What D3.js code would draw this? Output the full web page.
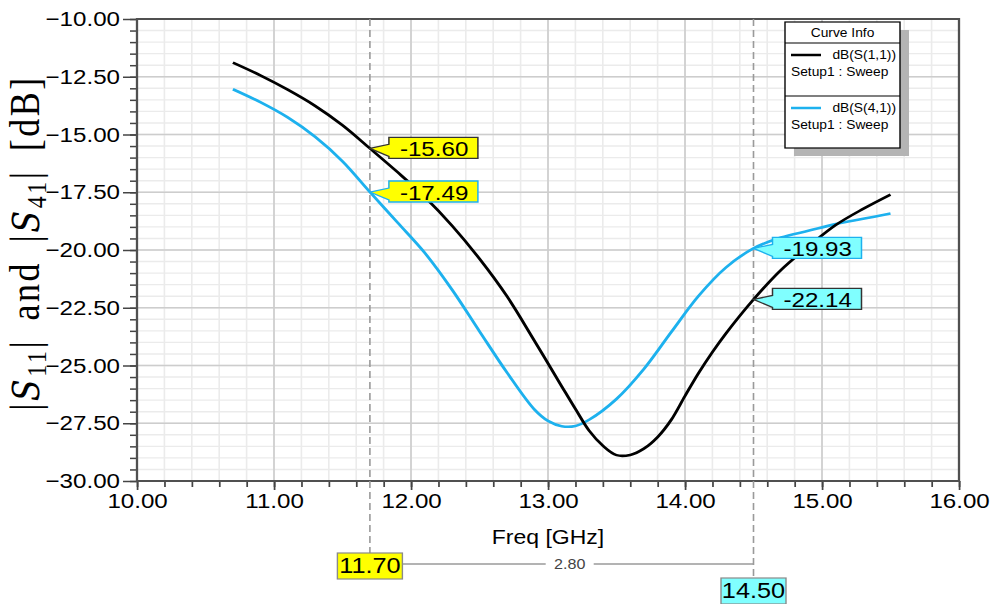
<!DOCTYPE html>
<html>
<head>
<meta charset="utf-8">
<script src="https://cdn.jsdelivr.net/npm/d3@7/dist/d3.min.js"></script>
<style>
body { margin: 0; background: #fff; }
svg { display: block; }
</style>
</head>
<body>
<div id="chart"></div>
<script>
// sweep data (GHz, dB)
var freqS11 = [10.7, 10.9, 11.1, 11.3, 11.5, 11.7, 11.9, 12.1, 12.3, 12.5, 12.7, 12.9, 13.1, 13.2, 13.3,
               13.4, 13.5, 13.6, 13.7, 13.8, 13.9, 14.0, 14.1, 14.2, 14.3, 14.5, 14.7, 14.9, 15.1, 15.3, 15.5];
var s11 = [-11.89, -12.44, -13.06, -13.76, -14.60, -15.60, -16.62, -17.70, -18.95, -20.38, -22.00, -23.92, -25.90, -26.88, -27.82,
           -28.47, -28.88, -28.87, -28.60, -28.10, -27.35, -26.32, -25.32, -24.42, -23.60, -22.14, -20.87, -19.85, -18.92, -18.22, -17.60];
var freqS41 = [10.7, 10.9, 11.1, 11.3, 11.5, 11.7, 11.9, 12.1, 12.3, 12.5, 12.7, 12.9, 13.0, 13.1,
               13.2, 13.3, 13.5, 13.7, 13.9, 14.1, 14.3, 14.5, 14.7, 14.9, 15.1, 15.3, 15.5];
var s41 = [-13.04, -13.60, -14.26, -15.10, -16.16, -17.49, -18.80, -20.12, -21.72, -23.52, -25.30, -26.90, -27.40, -27.63,
           -27.62, -27.35, -26.45, -25.15, -23.55, -21.98, -20.75, -19.93, -19.46, -19.17, -18.88, -18.65, -18.42];

var xTicks = [10, 11, 12, 13, 14, 15, 16];
var yTicks = [-10, -12.5, -15, -17.5, -20, -22.5, -25, -27.5, -30];

var markerFreq = [11.70, 14.50];
var markerS11 = [-15.60, -22.14];
var markerS41 = [-17.49, -19.93];
var markerFill = ['#ffff00', '#80ffff'];
var deltaLabel = '2.80';

var seriesNames = ['dB(S(1,1))', 'dB(S(4,1))'];
var seriesSetup = 'Setup1 : Sweep';
var seriesColors = ['#000000', '#1db1ee'];

// the original screenshot is stretched sideways, so draw in a narrower box and stretch
var K = 1.15;
var width = 996, height = 604;
var padding = { top: 19, right: 37, bottom: 123, left: 137 };
function px(x) { return x / K; }

var svg = d3.select('#chart')
    .append('svg')
    .attr('width', width)
    .attr('height', height)
    .attr('viewBox', '0 0 ' + px(width) + ' ' + height)
    .attr('preserveAspectRatio', 'none')
    .style('font-family', '"Liberation Sans", Arial, sans-serif');

var xScale = d3.scaleLinear()
    .domain([10, 16])
    .range([px(padding.left), px(width - padding.right)]);
var yScale = d3.scaleLinear()
    .domain([-30, -10])
    .range([height - padding.bottom, padding.top]);

var x0 = xScale(10), x1 = xScale(16), y0 = yScale(-10), y1 = yScale(-30);

// grid: minor first, then major
var grid = svg.append('g');
grid.selectAll('.vminor').data(xScale.ticks(30)).enter().append('line')
    .attr('x1', d => xScale(d)).attr('x2', d => xScale(d))
    .attr('y1', y0).attr('y2', y1)
    .attr('stroke', '#ebebeb').attr('stroke-width', 1.4);
grid.selectAll('.hminor').data(yScale.ticks(40)).enter().append('line')
    .attr('x1', x0).attr('x2', x1)
    .attr('y1', d => yScale(d)).attr('y2', d => yScale(d))
    .attr('stroke', '#ebebeb').attr('stroke-width', 1.4);
grid.selectAll('.vmajor').data(xTicks).enter().append('line')
    .attr('x1', d => xScale(d)).attr('x2', d => xScale(d))
    .attr('y1', y0).attr('y2', y1)
    .attr('stroke', '#cdcdcd').attr('stroke-width', 1.4);
grid.selectAll('.hmajor').data(yTicks).enter().append('line')
    .attr('x1', x0).attr('x2', x1)
    .attr('y1', d => yScale(d)).attr('y2', d => yScale(d))
    .attr('stroke', '#cdcdcd').attr('stroke-width', 1.4);

// axes
var yAxis = d3.axisLeft(yScale).tickValues(yTicks).tickSize(px(14)).tickPadding(px(3))
    .tickFormat(d3.format('.2f'));
var yMinor = d3.axisLeft(yScale).tickValues(yScale.ticks(40)).tickSize(px(7)).tickFormat('');
var xAxis = d3.axisBottom(xScale).tickValues(xTicks).tickSize(9).tickPadding(3)
    .tickFormat(d3.format('.2f'));
var xMinor = d3.axisBottom(xScale).tickValues(xScale.ticks(30)).tickSize(6).tickFormat('');

function styleAxis(g) {
    g.select('.domain').remove();
    g.selectAll('line').attr('stroke', '#444').attr('stroke-width', 1.5);
    g.selectAll('text').attr('fill', '#000').style('font-size', '21px');
}
svg.append('g').attr('transform', 'translate(' + x0 + ',0)').call(yMinor).call(styleAxis);
svg.append('g').attr('transform', 'translate(' + x0 + ',0)').call(yAxis).call(styleAxis);
svg.append('g').attr('transform', 'translate(0,' + y1 + ')').call(xMinor).call(styleAxis);
svg.append('g').attr('transform', 'translate(0,' + y1 + ')').call(xAxis).call(styleAxis);

// plot frame
svg.append('rect')
    .attr('x', x0).attr('y', y0)
    .attr('width', x1 - x0).attr('height', y1 - y0)
    .attr('fill', 'none').attr('stroke', '#505050').attr('stroke-width', 2);

// axis titles
svg.append('text')
    .attr('x', px(548)).attr('y', 544)
    .attr('text-anchor', 'middle')
    .style('font-size', '20px')
    .text('Freq [GHz]');

var yTitle = svg.append('text')
    .attr('transform', 'translate(' + px(39) + ',243) rotate(-90)')
    .attr('text-anchor', 'middle')
    .style('font-family', '"Liberation Serif", "Times New Roman", serif')
    .style('font-size', '36px')
    .style('letter-spacing', '2.5px')
    .style('word-spacing', '7px');
yTitle.append('tspan').text('|');
yTitle.append('tspan').style('font-family', '"DejaVu Serif", serif').style('font-style', 'italic')
    .style('font-size', '32px').text('S');
yTitle.append('tspan').attr('dy', 6).style('font-size', '24px').text('11');
yTitle.append('tspan').attr('dy', -6).text('| and |');
yTitle.append('tspan').style('font-family', '"DejaVu Serif", serif').style('font-style', 'italic')
    .style('font-size', '32px').text('S');
yTitle.append('tspan').attr('dy', 6).style('font-size', '24px').text('41');
yTitle.append('tspan').attr('dy', -6).text('| [dB]');

// marker lines
markerFreq.forEach(function (f, i) {
    svg.append('line')
        .attr('x1', xScale(f)).attr('x2', xScale(f))
        .attr('y1', y0).attr('y2', i === 0 ? 553 : 578)
        .attr('stroke', '#9a9a9a').attr('stroke-width', 1.4)
        .attr('stroke-dasharray', '7,4');
});

// curves
var linePath = d3.line()
    .x(function (d) { return xScale(d[0]); })
    .y(function (d) { return yScale(d[1]); })
    .curve(d3.curveCatmullRom.alpha(0.5));

svg.append('path')
    .attr('d', linePath(freqS41.map(function (f, i) { return [f, s41[i]]; })))
    .attr('fill', 'none')
    .attr('stroke', seriesColors[1])
    .attr('stroke-width', 2.6);
svg.append('path')
    .attr('d', linePath(freqS11.map(function (f, i) { return [f, s11[i]]; })))
    .attr('fill', 'none')
    .attr('stroke', seriesColors[0])
    .attr('stroke-width', 2.6);

// value callouts
function callout(freq, val, fill, stroke) {
    var tx = xScale(freq), ty = yScale(val);
    var left = tx + px(19), right = left + px(89);
    var top = ty - 11, bottom = ty + 10;
    var path = d3.path();
    path.moveTo(tx, ty);
    path.lineTo(left, ty - 4);
    path.lineTo(left, top);
    path.lineTo(right, top);
    path.lineTo(right, bottom);
    path.lineTo(left, bottom);
    path.lineTo(left, ty + 8);
    path.closePath();
    svg.append('path')
        .attr('d', path.toString())
        .attr('fill', fill)
        .attr('stroke', stroke)
        .attr('stroke-width', 1.3);
    svg.append('text')
        .attr('x', left + px(11)).attr('y', ty + 7.5)
        .style('font-size', '21px')
        .text(val.toFixed(2));
}
markerFreq.forEach(function (f, i) {
    callout(f, markerS11[i], markerFill[i], '#333');
    callout(f, markerS41[i], markerFill[i], seriesColors[1]);
});

// x marker labels under the axis
var boxTops = [553, 578];
markerFreq.forEach(function (f, i) {
    var w = px(65);
    svg.append('rect')
        .attr('x', xScale(f) - w / 2).attr('y', boxTops[i])
        .attr('width', w).attr('height', 26)
        .attr('fill', markerFill[i]).attr('stroke', '#8a8a8a').attr('stroke-width', 1.2);
    svg.append('text')
        .attr('x', xScale(f)).attr('y', boxTops[i] + 20)
        .attr('text-anchor', 'middle')
        .style('font-size', '22px')
        .text(f.toFixed(2));
});

// delta between the two markers
var dL = xScale(markerFreq[0]) + px(33), dR = xScale(markerFreq[1]);
var dMid = (xScale(markerFreq[0]) + dR) / 2 + px(8);
svg.append('line').attr('x1', dL).attr('x2', dMid - px(24)).attr('y1', 564).attr('y2', 564)
    .attr('stroke', '#9a9a9a').attr('stroke-width', 1.4);
svg.append('line').attr('x1', dMid + px(24)).attr('x2', dR).attr('y1', 564).attr('y2', 564)
    .attr('stroke', '#9a9a9a').attr('stroke-width', 1.4);
svg.append('text')
    .attr('x', dMid).attr('y', 569)
    .attr('text-anchor', 'middle')
    .attr('fill', '#444')
    .style('font-size', '14px')
    .text(deltaLabel);

// legend box
var lg = svg.append('g');
var lgX = px(785), lgW = px(115), lgY = 22, lgH = 126;
lg.append('rect').attr('x', lgX + px(9)).attr('y', lgY + 8).attr('width', lgW).attr('height', lgH)
    .attr('fill', '#b4b4b4');
lg.append('rect').attr('x', lgX).attr('y', lgY).attr('width', lgW).attr('height', lgH)
    .attr('fill', '#fff').attr('stroke', '#000').attr('stroke-width', 1.2);
lg.append('text').attr('x', lgX + lgW / 2).attr('y', lgY + 15)
    .attr('text-anchor', 'middle').style('font-size', '12px').text('Curve Info');
[43, 96].forEach(function (yy) {
    lg.append('line').attr('x1', lgX).attr('x2', lgX + lgW).attr('y1', yy).attr('y2', yy)
        .attr('stroke', '#000').attr('stroke-width', 1);
});
var rowY = [55, 108];
seriesNames.forEach(function (name, i) {
    lg.append('line')
        .attr('x1', px(791)).attr('x2', px(821))
        .attr('y1', rowY[i]).attr('y2', rowY[i])
        .attr('stroke', seriesColors[i]).attr('stroke-width', 2.5);
    lg.append('text').attr('x', px(896)).attr('y', rowY[i] + 4)
        .attr('text-anchor', 'end').style('font-size', '12px').text(name);
    lg.append('text').attr('x', px(791)).attr('y', rowY[i] + 21)
        .style('font-size', '12px').text(seriesSetup);
});
</script>
</body>
</html>
